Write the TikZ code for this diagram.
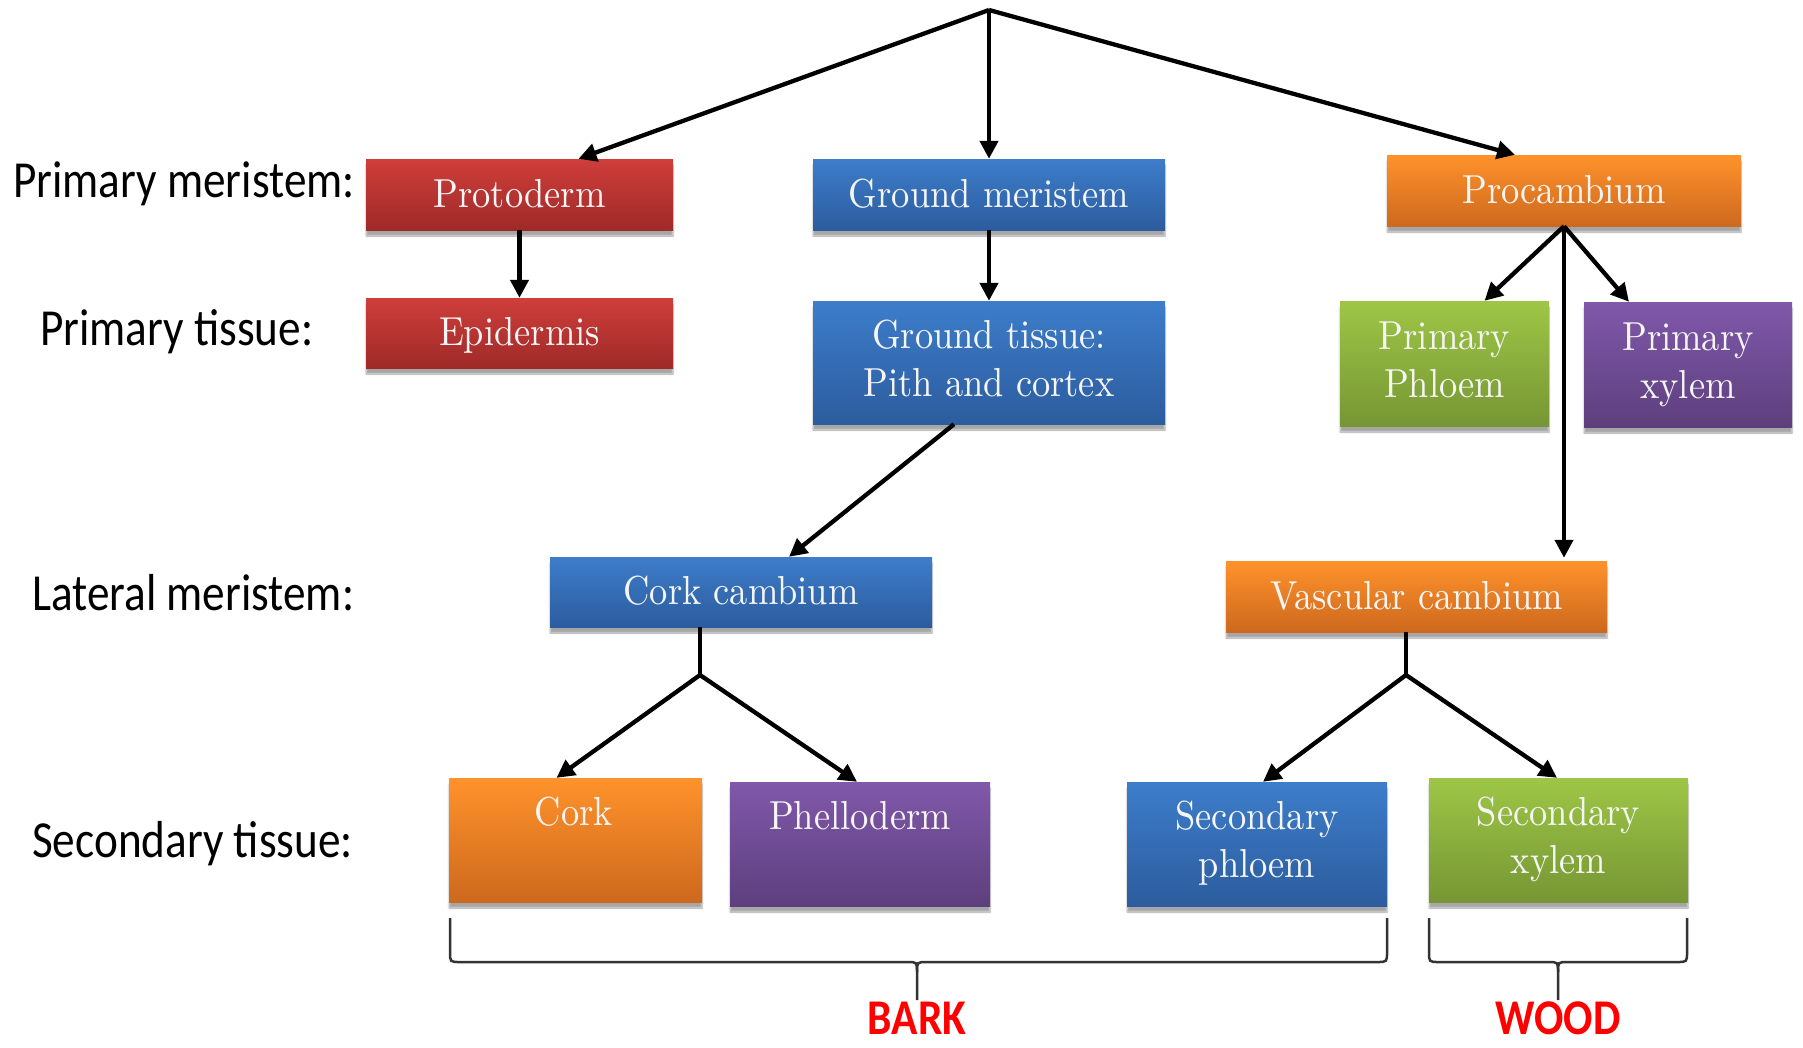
\documentclass[tikz,border=0pt]{standalone}
\usepackage{fontspec}
\setmainfont{lmroman10-regular.otf}[FakeStretch=0.9]
\newfontfamily\labfont{Carlito}[FakeStretch=0.87]
\newfontfamily\bigfont{Carlito}[FakeStretch=0.87]
\usetikzlibrary{arrows.meta,shadows.blur}
\definecolor{redT}{HTML}{CF3E3A}\definecolor{redB}{HTML}{9E2A28}
\definecolor{bluT}{HTML}{3D7DCA}\definecolor{bluB}{HTML}{2C5C9E}
\definecolor{oraT}{HTML}{FF922B}\definecolor{oraB}{HTML}{CD691E}
\definecolor{greT}{HTML}{9EC646}\definecolor{greB}{HTML}{769634}
\definecolor{purT}{HTML}{8058AA}\definecolor{purB}{HTML}{5D3F7D}
\begin{document}
\begin{tikzpicture}[x=1pt,y=-1pt,
  box/.style={rectangle, inner sep=0pt, text=white!96!black,
    font=\fontsize{40.5}{48}\selectfont, align=center,
    blur shadow={shadow xshift=0pt, shadow yshift=-6pt, shadow blur steps=6, shadow opacity=35}},
  one/.style={text height=28pt, text depth=3pt},
  two/.style={text height=76pt, text depth=9pt},
  redbox/.style={box, top color=redT, bottom color=redB},
  blubox/.style={box, top color=bluT, bottom color=bluB},
  orabox/.style={box, top color=oraT, bottom color=oraB},
  grebox/.style={box, top color=greT, bottom color=greB},
  purbox/.style={box, top color=purT, bottom color=purB},
  boxtext/.style={inner sep=0pt, text=white!96!black, font=\fontsize{40.5}{48}\selectfont, anchor=base},
  lab/.style={inner sep=0pt, anchor=base west, font=\labfont\fontsize{52}{60}\selectfont},
  big/.style={inner sep=0pt, anchor=base, text=red, font=\bigfont\bfseries\fontsize{50}{56}\selectfont},
  arr/.style={line width=4.3pt, -{Triangle[length=18pt,width=18pt]}},
  conn/.style={line width=4.3pt},
  brace/.style={line width=2.5pt, draw=black!80}]
\useasboundingbox (0,0) rectangle (1803,1047);

% row labels
\node[lab] (l1) at (13,197) {Primary meristem:};
\node[lab] (l2) at (40,345) {Primary tissue:};
\node[lab] (l3) at (32,610) {Lateral meristem:};
\node[lab] (l4) at (32,857) {Secondary tissue:};

% boxes
\node[redbox, one, minimum width=307pt, minimum height=71pt] (proto) at (519.5,194.5) {Protoderm};
\node[blubox, one, minimum width=352pt, minimum height=71pt] (gmer) at (989,194.5) {Ground meristem};
\node[orabox, one, minimum width=354pt, minimum height=71pt] (procamb) at (1564,190.5) {Procambium};
\node[redbox, one, minimum width=307pt, minimum height=70pt] (epi) at (519.5,333) {Epidermis};
\node[blubox, two, minimum width=352pt, minimum height=123pt] (gtis) at (989,362.5) {Ground tissue:\\Pith and cortex};
\node[grebox, two, minimum width=209pt, minimum height=125pt] (pphl) at (1444.5,363.5) {Primary\\Phloem};
\node[purbox, two, minimum width=208pt, minimum height=125pt] (pxyl) at (1688,364.5) {Primary\\xylem};
\node[blubox, one, minimum width=382pt, minimum height=70pt] (corkc) at (741,592) {Cork cambium};
\node[orabox, one, minimum width=381pt, minimum height=71pt] (vasc) at (1416.5,596.5) {Vascular cambium};
\node[orabox, minimum width=253pt, minimum height=124pt] (cork) at (575.5,840) {};
\node[purbox, minimum width=260pt, minimum height=124pt] (phel) at (860,844) {};
\node[blubox, two, minimum width=260pt, minimum height=124pt] (sphl) at (1257,844) {Secondary\\phloem};
\node[grebox, two, minimum width=259pt, minimum height=124pt] (sxyl) at (1558.5,840) {Secondary\\xylem};
\node[boxtext] (corkt) at (574,825) {Cork};
\node[boxtext] (phelt) at (860,829) {Phelloderm};

% connectors
\coordinate (apex) at (989,10);
\draw[arr] (apex) -- ([xshift=59pt]proto.north);
\draw[arr] (apex) -- (gmer.north);
\draw[arr] (apex) -- ([xshift=-49pt]procamb.north);
\draw[arr] (proto.south) -- (epi.north);
\draw[arr] (gmer.south) -- (gtis.north);
\draw[arr] ([xshift=-35pt]gtis.south) -- ([xshift=48pt]corkc.north);
\draw[arr] (procamb.south) -- ([xshift=40pt]pphl.north);
\draw[arr] (procamb.south) -- ([xshift=-59pt]pxyl.north);
\draw[arr] (procamb.south) -- ([yshift=3pt]procamb.south |- vasc.north);

\coordinate (cfork) at (700,675);
\draw[conn] ([xshift=-41pt]corkc.south) -- (cfork);
\draw[arr] (cfork) -- ([xshift=-19pt]cork.north);
\draw[arr] (cfork) -- ([xshift=-3pt]phel.north);

\coordinate (vfork) at (1406,675);
\draw[conn] ([xshift=-10.5pt]vasc.south) -- (vfork);
\draw[arr] (vfork) -- ([xshift=6pt]sphl.north);
\draw[arr] (vfork) -- ([xshift=-1.5pt]sxyl.north);

% braces
\draw[brace] (450,918) -- (450,952) .. controls (450,962) .. (460,962) -- (907,962)
  .. controls (917,962) .. (917,972) -- (917,1000);
\draw[brace] (917,972) .. controls (917,962) .. (927,962) -- (1377,962)
  .. controls (1387,962) .. (1387,952) -- (1387,918);
\draw[brace] (1429,918) -- (1429,952) .. controls (1429,962) .. (1439,962) -- (1548,962)
  .. controls (1558,962) .. (1558,972) -- (1558,1000);
\draw[brace] (1558,972) .. controls (1558,962) .. (1568,962) -- (1677,962)
  .. controls (1687,962) .. (1687,952) -- (1687,918);

\node[big] (bark) at (917,1034) {BARK};
\node[big] (wood) at (1558,1034) {WOOD};
\end{tikzpicture}
\end{document}
